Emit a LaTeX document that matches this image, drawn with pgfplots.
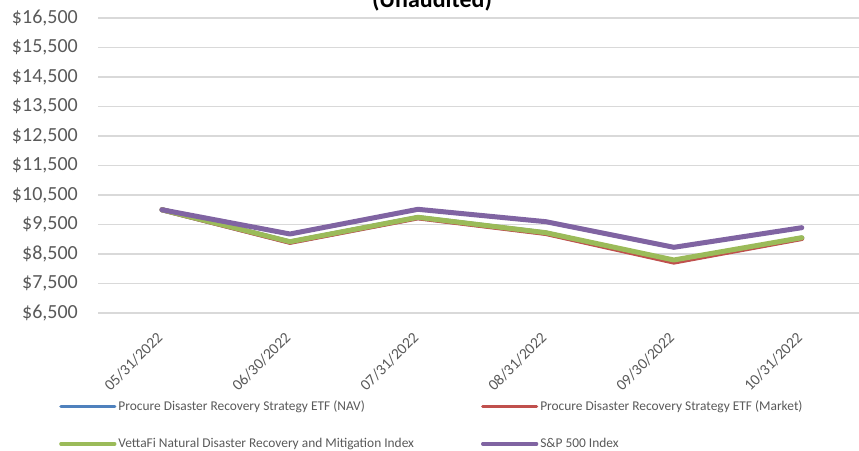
\documentclass[border=0pt]{standalone}
\usepackage{fontspec}
\setmainfont{Carlito}
\usepackage{pgfplots}
\pgfplotsset{compat=1.18}
\definecolor{cblue}{HTML}{4F81BD}
\definecolor{cred}{HTML}{C0504D}
\definecolor{cgreen}{HTML}{9BBB59}
\definecolor{cpurple}{HTML}{8064A2}
\definecolor{tgray}{HTML}{595959}
\definecolor{ggray}{HTML}{D9D9D9}
\begin{document}
\begin{tikzpicture}[x=1pt,y=1pt]
\useasboundingbox (0,0) rectangle (859,450);
\node[anchor=base, font=\fontsize{24}{28}\selectfont\bfseries, text=black, inner sep=0pt] at (432,442) {(Unaudited)};
\begin{axis}[
  at={(98pt,137pt)}, anchor=south west,
  scale only axis, width=761pt, height=295pt,
  xmin=-0.5, xmax=5.447, ymin=6500, ymax=16500,
  axis line style={draw=none},
  major tick length=0pt,
  scaled y ticks=false,
  ymajorgrids, grid style={ggray, line width=1.5pt},
  ytick={6500,7500,8500,9500,10500,11500,12500,13500,14500,15500,16500},
  yticklabels={{\$6,500},{\$7,500},{\$8,500},{\$9,500},{\$10,500},{\$11,500},{\$12,500},{\$13,500},{\$14,500},{\$15,500},{\$16,500}},
  yticklabel style={font=\fontsize{20}{23}\selectfont, text=tgray, anchor=east, inner sep=0pt, xshift=-20pt},
  xtick={0,1,2,3,4,5},
  xticklabels={05/31/2022,06/30/2022,07/31/2022,08/31/2022,09/30/2022,10/31/2022},
  xticklabel style={font=\fontsize{15.5}{18}\selectfont, text=tgray, inner sep=0pt, xshift=-2pt, yshift=-22pt, rotate=45, anchor=east},
  legend columns=2,
  legend cell align=left,
  legend style={at={(-0.0512,-0.2915)}, anchor=north west, draw=none, fill=none, inner sep=0pt,
    font=\fontsize{13.4}{16}\selectfont, text=tgray, row sep=22pt,
    /tikz/every even column/.append style={column sep=65pt},
    nodes={inner sep=2pt}},
  legend image code/.code={\draw[#1, line width=3.2pt] (0pt,0pt) -- (54pt,0pt);},
  every axis plot/.append style={line width=5pt, line cap=round, line join=round},
]
\addplot[cblue] coordinates {(0,10000) (1,8905) (2,9735) (3,9210) (4,8245) (5,9040)};
\addlegendentry{Procure Disaster Recovery Strategy ETF (NAV)}
\addplot[cred] coordinates {(0,10000) (1,8895) (2,9725) (3,9195) (4,8225) (5,9025)};
\addlegendentry{Procure Disaster Recovery Strategy ETF (Market)}
\addplot[cgreen] coordinates {(0,10000) (1,8917) (2,9744) (3,9222) (4,8297) (5,9053)};
\addlegendentry{VettaFi Natural Disaster Recovery and Mitigation Index}
\addplot[cpurple] coordinates {(0,10000) (1,9178) (2,10015) (3,9595) (4,8727) (5,9392)};
\addlegendentry{S\&P 500 Index}
\end{axis}
\end{tikzpicture}
\end{document}
